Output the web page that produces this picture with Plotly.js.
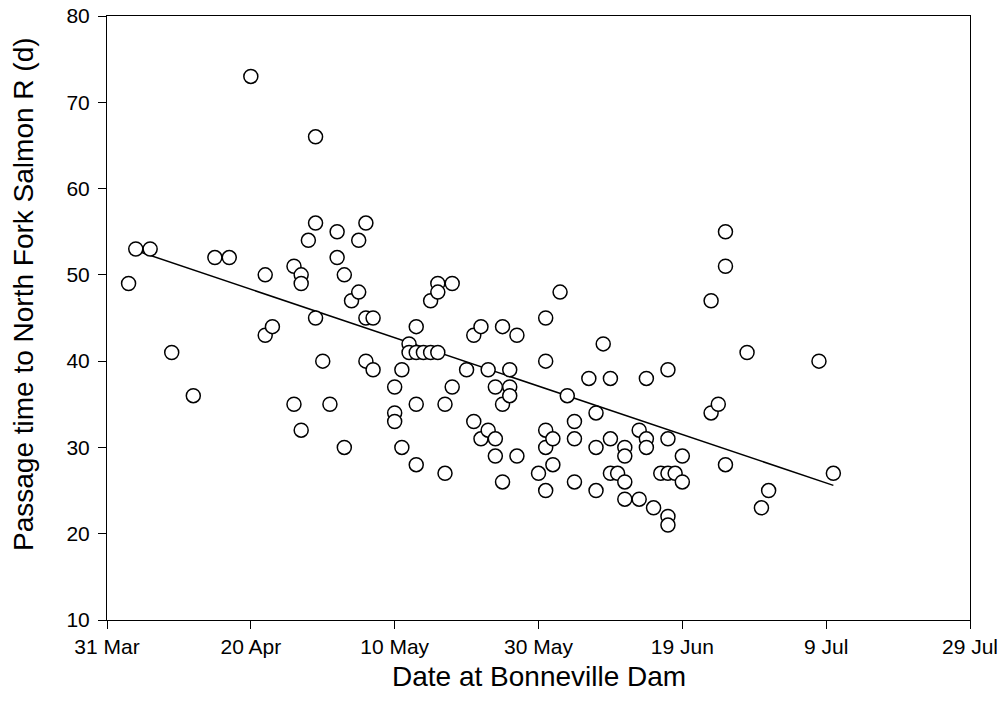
<!DOCTYPE html>
<html>
<head>
<meta charset="utf-8">
<script src="https://cdn.plot.ly/plotly-3.0.1.min.js"></script>
<style>
  html, body { margin: 0; padding: 0; background: #ffffff; }
  #chart { width: 1008px; height: 724px; }
</style>
</head>
<body>
<div id="chart"></div>
<script>
// Date at Bonneville Dam (each fish)
const passDates = [
  '2000-04-03','2000-04-04','2000-04-06','2000-04-09','2000-04-12','2000-04-15','2000-04-17','2000-04-20',
  '2000-04-22','2000-04-22','2000-04-23','2000-04-26','2000-04-26','2000-04-27','2000-04-27','2000-04-27',
  '2000-04-28','2000-04-29','2000-04-29','2000-04-29','2000-04-30','2000-05-01','2000-05-02','2000-05-02',
  '2000-05-03','2000-05-03','2000-05-04','2000-05-05','2000-05-05','2000-05-06','2000-05-06','2000-05-06',
  '2000-05-07','2000-05-07','2000-05-10','2000-05-10','2000-05-10','2000-05-11','2000-05-11','2000-05-12',
  '2000-05-12','2000-05-13','2000-05-13','2000-05-13','2000-05-13','2000-05-14','2000-05-15','2000-05-15',
  '2000-05-16','2000-05-16','2000-05-16','2000-05-17','2000-05-17','2000-05-18','2000-05-18','2000-05-20',
  '2000-05-21','2000-05-21','2000-05-22','2000-05-22','2000-05-23','2000-05-23','2000-05-24','2000-05-24',
  '2000-05-24','2000-05-25','2000-05-25','2000-05-25','2000-05-26','2000-05-26','2000-05-26','2000-05-27',
  '2000-05-27','2000-05-30','2000-05-31','2000-05-31','2000-05-31','2000-05-31','2000-05-31','2000-06-01',
  '2000-06-01','2000-06-02','2000-06-03','2000-06-04','2000-06-04','2000-06-04','2000-06-06','2000-06-07',
  '2000-06-07','2000-06-07','2000-06-08','2000-06-09','2000-06-09','2000-06-09','2000-06-10','2000-06-11',
  '2000-06-11','2000-06-11','2000-06-11','2000-06-13','2000-06-13','2000-06-14','2000-06-14','2000-06-14',
  '2000-06-15','2000-06-16','2000-06-17','2000-06-17','2000-06-17','2000-06-17','2000-06-17','2000-06-18',
  '2000-06-19','2000-06-19','2000-06-23','2000-06-23','2000-06-24','2000-06-25','2000-06-25','2000-06-25',
  '2000-06-28','2000-06-30','2000-07-01','2000-07-08','2000-07-10'
];
// Passage time to North Fork Salmon R (days)
const passDays = [
  49,53,53,41,36,52,52,73,
  50,43,44,35,51,50,49,32,
  54,66,56,45,40,35,55,52,
  50,30,47,48,54,56,45,40,
  45,39,37,34,33,39,30,42,
  41,41,44,35,28,41,41,47,
  41,49,48,35,27,49,37,39,
  43,33,44,31,39,32,37,31,
  29,44,35,26,39,37,36,43,
  29,27,45,40,32,30,25,31,
  28,48,36,33,31,26,38,34,
  30,25,42,38,31,27,27,30,
  29,26,24,32,24,38,31,30,
  23,27,39,31,27,22,21,27,
  29,26,47,34,35,55,51,28,
  41,23,25,40,27
];
// Fitted regression line end points
const fitDates = ['2000-04-03', '2000-07-10'];
const fitDays = [53.1, 25.6];

// Axis ticks and titles
const xTickVals = ['2000-03-31','2000-04-20','2000-05-10','2000-05-30','2000-06-19','2000-07-09','2000-07-29'];
const xTickText = ['31 Mar','20 Apr','10 May','30 May','19 Jun','9 Jul','29 Jul'];
const yTickVals = [10,20,30,40,50,60,70,80];
const xTitle = 'Date at Bonneville Dam';
const yTitle = 'Passage time to North Fork Salmon R (d)';

const FONT = 'Liberation Sans, Arial, Helvetica, sans-serif';

const traces = [
  {
    x: fitDates, y: fitDays, type: 'scatter', mode: 'lines',
    line: { color: '#000000', width: 1.5 }, hoverinfo: 'skip', showlegend: false
  },
  {
    x: passDates, y: passDays, type: 'scatter', mode: 'markers',
    marker: { symbol: 'circle', size: 14, color: '#ffffff', line: { color: '#000000', width: 1.5 } },
    showlegend: false
  }
];

const layout = {
  width: 1008, height: 724,
  margin: { l: 107, r: 38, t: 16, b: 104 },
  paper_bgcolor: '#ffffff', plot_bgcolor: '#ffffff',
  font: { family: FONT, color: '#000000', size: 20 },
  showlegend: false,
  xaxis: {
    type: 'date',
    range: ['2000-03-31', '2000-07-29'],
    tickmode: 'array', tickvals: xTickVals, ticktext: xTickText,
    ticks: 'outside', ticklen: 8, tickwidth: 1, tickcolor: '#000000',
    showline: true, linecolor: '#000000', linewidth: 1, mirror: true,
    showgrid: false, zeroline: false,
    tickfont: { family: FONT, size: 21, color: '#000000' }
  },
  yaxis: {
    range: [10, 80],
    tickmode: 'array', tickvals: yTickVals,
    ticks: 'outside', ticklen: 8, tickwidth: 1, tickcolor: '#000000',
    showline: true, linecolor: '#000000', linewidth: 1, mirror: true,
    showgrid: false, zeroline: false,
    ticklabelstandoff: 4,
    tickfont: { family: FONT, size: 21, color: '#000000' }
  },
  annotations: [
    {
      text: xTitle, xref: 'paper', yref: 'paper', x: 0.5, y: -0.093,
      xanchor: 'center', yanchor: 'middle', showarrow: false,
      font: { family: FONT, size: 28, color: '#000000' }
    },
    {
      text: yTitle, xref: 'paper', yref: 'paper', x: -0.096, y: 0.54,
      xanchor: 'center', yanchor: 'middle', showarrow: false, textangle: -90,
      font: { family: FONT, size: 28, color: '#000000' }
    }
  ]
};

Plotly.newPlot('chart', traces, layout, { staticPlot: true, displayModeBar: false });
</script>
</body>
</html>
